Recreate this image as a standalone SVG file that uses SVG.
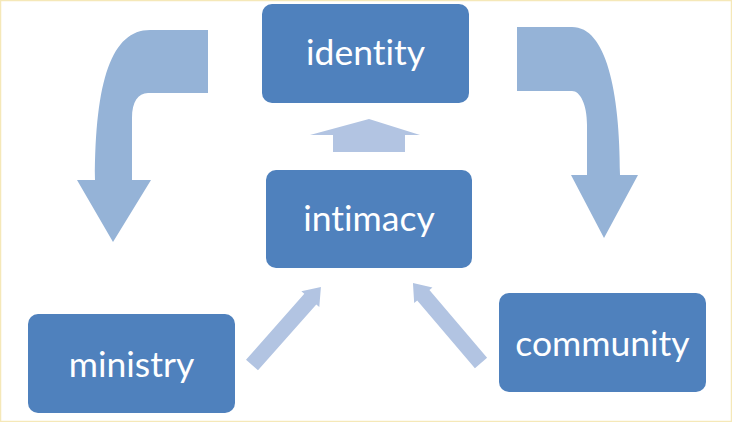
<svg xmlns="http://www.w3.org/2000/svg" width="732" height="422" viewBox="0 0 732 422">
<style>
.node{fill:#4f81bd;}
.lbl{font-family:Lato,"Open Sans","Liberation Sans",sans-serif;font-size:35.5px;fill:#ffffff;text-anchor:middle;font-variant-ligatures:none;}
.bent{fill:#95b3d7;}
.light{fill:#b2c4e2;}
</style>
<rect x="0.5" y="0.5" width="731" height="421" fill="#ffffff" stroke="#f5e8b8" stroke-width="1.5"/>
<g id="connectors">
<path class="bent" d="M208 30 L150 30 C112 30 95 80 95 180 L77 180 L113 242 L151 180 L132 180 L132 118 C132 102 138 93 148 93 L208 93 Z"/>
<path class="bent" d="M517 27 L572 27 C606 27 620 90 620 175 L638 175 L604 238 L571 175 L587 175 L587 125 C587 104 580 91 572 91 L517 91 Z"/>
<path class="light" d="M333 152 L333 135 L310 135 L369 119 L420 135 L405 135 L405 152 Z"/>
<polygon class="light" transform="translate(252 365) rotate(-48.5)" points="0,-8 88,-8 88,-12 104,0 88,12 88,8 0,8"/>
<polygon class="light" transform="translate(481 363) rotate(-130.4)" points="0,-8 89,-8 89,-12 105,0 89,12 89,8 0,8"/>
</g>
<g id="identity">
<rect class="node" x="262" y="4" width="207" height="99" rx="10"/>
<text class="lbl" x="365.5" y="65">identity</text>
</g>
<g id="intimacy">
<rect class="node" x="266" y="170" width="206" height="98" rx="10"/>
<text class="lbl" x="369" y="231">intimacy</text>
</g>
<g id="ministry">
<rect class="node" x="28" y="314" width="207" height="99" rx="10"/>
<text class="lbl" x="131.5" y="377">ministry</text>
</g>
<g id="community">
<rect class="node" x="499" y="293" width="207" height="99" rx="10"/>
<text class="lbl" x="602.5" y="356">community</text>
</g>
</svg>
